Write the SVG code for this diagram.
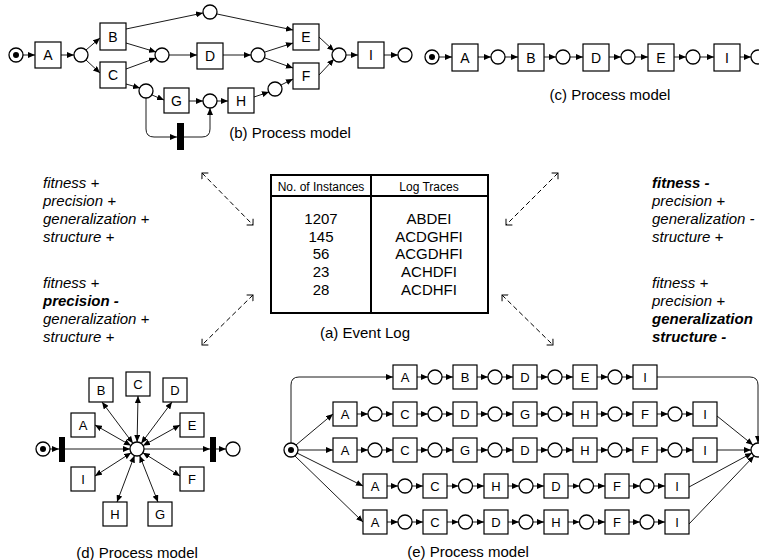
<svg xmlns="http://www.w3.org/2000/svg" width="759" height="560" viewBox="0 0 759 560">
<defs>
<marker id="ah" viewBox="0 0 7 6" refX="7" refY="3" markerWidth="7" markerHeight="6" markerUnits="userSpaceOnUse" orient="auto-start-reverse"><path d="M0,0L7,3L0,6z" fill="#000"/></marker>
<marker id="oh" viewBox="0 0 6 10" refX="5" refY="5" markerWidth="6" markerHeight="10" markerUnits="userSpaceOnUse" orient="auto-start-reverse"><path d="M0.5,0.5L5,5L0.5,9.5" fill="none" stroke="#000" stroke-width="1"/></marker>
</defs>
<style>
text{font-family:"Liberation Sans",Arial,sans-serif;fill:#000}
.t rect{fill:#fff;stroke:#000;stroke-width:1.2}
.t text{font-size:14px;text-anchor:middle}
.s rect{fill:#fff;stroke:#000;stroke-width:1.2}
.s text{font-size:13px;text-anchor:middle}
.p{fill:#fff;stroke:#000;stroke-width:1.3}
.dot{fill:#000}
.bar{fill:#000}
.a{fill:none;stroke:#000;stroke-width:0.9;marker-end:url(#ah)}
.b{fill:none;stroke:#000;stroke-width:0.9;marker-end:url(#ah);marker-start:url(#ah)}
.l{fill:none;stroke:#000;stroke-width:0.9}
.d{fill:none;stroke:#000;stroke-width:1;stroke-dasharray:5,3;marker-end:url(#oh);marker-start:url(#oh)}
.cap{font-size:15px;text-anchor:middle}
.q{font-size:15px;font-style:italic}
.qb{font-size:15px;font-style:italic;font-weight:bold}
.th{font-size:12px;text-anchor:middle}
.tr{font-size:15px;text-anchor:middle}
</style>

<!-- ===== (b) Process model ===== -->
<g id="model-b">
<g id="b-start"><circle class="p" cx="16" cy="55" r="7"/><circle class="dot" cx="16" cy="55" r="3"/></g>
<g id="b-A" class="t"><rect x="35" y="42" width="26" height="26"/><text x="48" y="60">A</text></g>
<g id="b-B" class="t"><rect x="100" y="23" width="26" height="27"/><text x="113" y="42">B</text></g>
<g id="b-C" class="t"><rect x="100" y="62" width="26" height="26"/><text x="113" y="80">C</text></g>
<g id="b-D" class="t"><rect x="197" y="43" width="26" height="26"/><text x="210" y="61">D</text></g>
<g id="b-E" class="t"><rect x="293" y="24" width="26" height="26"/><text x="306" y="42">E</text></g>
<g id="b-F" class="t"><rect x="293" y="63" width="26" height="26"/><text x="306" y="81">F</text></g>
<g id="b-G" class="t"><rect x="164" y="88" width="25" height="25"/><text x="176.5" y="105.5">G</text></g>
<g id="b-H" class="t"><rect x="228" y="88" width="26" height="25"/><text x="241" y="105.5">H</text></g>
<g id="b-I" class="t"><rect x="358" y="42" width="26" height="26"/><text x="371" y="60">I</text></g>
<circle id="b-p1" class="p" cx="81" cy="55" r="7"/>
<circle id="b-ptop" class="p" cx="210" cy="12" r="7"/>
<circle id="b-pmid" class="p" cx="162" cy="55" r="7"/>
<circle id="b-pd" class="p" cx="258" cy="55" r="7"/>
<circle id="b-pi" class="p" cx="339" cy="55" r="7"/>
<circle id="b-pc" class="p" cx="146" cy="91" r="7"/>
<circle id="b-pg" class="p" cx="210" cy="101" r="7"/>
<circle id="b-ph" class="p" cx="275" cy="89" r="7"/>
<circle id="b-end" class="p" cx="405" cy="55" r="7"/>
<rect id="b-bar" class="bar" x="177" y="123" width="7" height="27"/>
<text class="cap" x="290" y="138">(b) Process model</text>
</g>
<g id="b-arcs">
<path class="a" d="M23,55H35"/>
<path class="a" d="M61,55H74"/>
<path class="a" d="M86,50L100,38"/>
<path class="a" d="M86,60L100,73"/>
<path class="a" d="M126,29L203,13"/>
<path class="a" d="M126,43L156,52"/>
<path class="a" d="M126,69L156,58"/>
<path class="a" d="M126,84L140,88"/>
<path class="a" d="M169,55H197"/>
<path class="a" d="M223,55H251"/>
<path class="a" d="M217,14L293,30"/>
<path class="a" d="M265,52L293,43"/>
<path class="a" d="M265,58L293,68"/>
<path class="a" d="M281,85L293,79"/>
<path class="a" d="M319,37L334,51"/>
<path class="a" d="M319,75L334,59"/>
<path class="a" d="M346,55H358"/>
<path class="a" d="M384,55H398"/>
<path class="a" d="M152,95L164,100"/>
<path class="a" d="M189,101H203"/>
<path class="a" d="M217,101H228"/>
<path class="a" d="M254,97L269,92"/>
<path class="a" d="M146,98V129Q146,137 154,137H177"/>
<path class="a" d="M184,137H202Q210,137 210,129V108"/>
</g>

<!-- ===== (c) Process model ===== -->
<g id="model-c">
<g id="c-start"><circle class="p" cx="432" cy="57" r="7"/><circle class="dot" cx="432" cy="57" r="3"/></g>
<g id="c-A" class="t"><rect x="452" y="44" width="26" height="27"/><text x="465" y="62.5">A</text></g>
<g id="c-B" class="t"><rect x="518" y="44" width="26" height="27"/><text x="531" y="62.5">B</text></g>
<g id="c-D" class="t"><rect x="583" y="44" width="26" height="27"/><text x="596" y="62.5">D</text></g>
<g id="c-E" class="t"><rect x="648" y="44" width="26" height="27"/><text x="661" y="62.5">E</text></g>
<g id="c-I" class="t"><rect x="714" y="44" width="26" height="27"/><text x="727" y="62.5">I</text></g>
<circle id="c-p1" class="p" cx="498" cy="57" r="7"/>
<circle id="c-p2" class="p" cx="563" cy="57" r="7"/>
<circle id="c-p3" class="p" cx="628" cy="57" r="7"/>
<circle id="c-p4" class="p" cx="693" cy="57" r="7"/>
<circle id="c-end" class="p" cx="758" cy="57" r="7"/>
<text class="cap" x="610" y="100">(c) Process model</text>
</g>
<g id="c-arcs">
<path class="a" d="M439,57H452"/>
<path class="a" d="M478,57H491"/>
<path class="a" d="M505,57H518"/>
<path class="a" d="M544,57H556"/>
<path class="a" d="M570,57H583"/>
<path class="a" d="M609,57H621"/>
<path class="a" d="M635,57H648"/>
<path class="a" d="M674,57H686"/>
<path class="a" d="M700,57H714"/>
<path class="a" d="M740,57H751"/>
</g>

<!-- ===== (a) Event log ===== -->
<g id="event-log">
<rect x="271" y="175" width="217" height="138" fill="#fff" stroke="#000" stroke-width="2"/>
<line x1="271" y1="196" x2="488" y2="196" stroke="#000" stroke-width="2"/>
<line x1="371" y1="175" x2="371" y2="313" stroke="#000" stroke-width="2"/>
<text class="th" x="321" y="191">No. of Instances</text>
<text class="th" x="429" y="191">Log Traces</text>
<text class="tr" x="321" y="224">1207</text>
<text class="tr" x="321" y="241.7">145</text>
<text class="tr" x="321" y="259.4">56</text>
<text class="tr" x="321" y="277.1">23</text>
<text class="tr" x="321" y="294.8">28</text>
<text class="tr" x="429" y="224">ABDEI</text>
<text class="tr" x="429" y="241.7">ACDGHFI</text>
<text class="tr" x="429" y="259.4">ACGDHFI</text>
<text class="tr" x="429" y="277.1">ACHDFI</text>
<text class="tr" x="429" y="294.8">ACDHFI</text>
<text class="cap" x="365" y="338">(a) Event Log</text>
</g>
<g id="dashed-arrows">
<path class="d" d="M202,173L253,225"/>
<path class="d" d="M558,173L506,225"/>
<path class="d" d="M253,295L202,345"/>
<path class="d" d="M502,295L553,345"/>
</g>

<!-- ===== quality texts ===== -->
<g id="text-b">
<text class="q" x="43" y="188">fitness +</text>
<text class="q" x="43" y="206">precision +</text>
<text class="q" x="43" y="224">generalization +</text>
<text class="q" x="43" y="242">structure +</text>
</g>
<g id="text-d">
<text class="q" x="43" y="288">fitness +</text>
<text class="qb" x="43" y="306">precision -</text>
<text class="q" x="43" y="324">generalization +</text>
<text class="q" x="43" y="342">structure +</text>
</g>
<g id="text-c">
<text class="qb" x="652" y="188">fitness -</text>
<text class="q" x="652" y="206">precision +</text>
<text class="q" x="652" y="224">generalization -</text>
<text class="q" x="652" y="242">structure +</text>
</g>
<g id="text-e">
<text class="q" x="652" y="288">fitness +</text>
<text class="q" x="652" y="306">precision +</text>
<text class="qb" x="652" y="324">generalization</text>
<text class="qb" x="652" y="342">structure -</text>
</g>

<!-- ===== (d) Process model ===== -->
<g id="model-d">
<g id="d-start"><circle class="p" cx="43" cy="449" r="7"/><circle class="dot" cx="43" cy="449" r="3"/></g>
<rect id="d-bar1" class="bar" x="59" y="437" width="6" height="25"/>
<rect id="d-bar2" class="bar" x="210" y="437" width="6" height="25"/>
<circle id="d-end" class="p" cx="233" cy="449" r="7"/>
<g id="d-A" class="s"><rect x="71" y="413" width="24" height="24"/><text x="83" y="429.5">A</text></g>
<g id="d-B" class="s"><rect x="89" y="378" width="24" height="24"/><text x="101" y="394.5">B</text></g>
<g id="d-C" class="s"><rect x="126" y="372" width="24" height="24"/><text x="138" y="388.5">C</text></g>
<g id="d-D" class="s"><rect x="163" y="378" width="24" height="24"/><text x="175" y="394.5">D</text></g>
<g id="d-E" class="s"><rect x="180" y="413" width="24" height="24"/><text x="192" y="429.5">E</text></g>
<g id="d-I" class="s"><rect x="71" y="467" width="24" height="24"/><text x="83" y="483.5">I</text></g>
<g id="d-F" class="s"><rect x="180" y="467" width="24" height="24"/><text x="192" y="483.5">F</text></g>
<g id="d-H" class="s"><rect x="103" y="502" width="24" height="24"/><text x="115" y="518.5">H</text></g>
<g id="d-G" class="s"><rect x="148" y="502" width="24" height="24"/><text x="160" y="518.5">G</text></g>
<text class="cap" x="137" y="558">(d) Process model</text>
</g>
<g id="d-arcs">
<path class="a" d="M50,449H59"/>
<path class="a" d="M65,449H130"/>
<path class="a" d="M144,449H210"/>
<path class="a" d="M216,449H226"/>
<path class="b" d="M132.9,443.3L102,402"/>
<path class="b" d="M137.1,442L138,396"/>
<path class="b" d="M141.2,443.4L172,402"/>
<path class="b" d="M130.9,445.5L95,425"/>
<path class="b" d="M143.1,445.6L180,425"/>
<path class="b" d="M131.1,452.8L95,476"/>
<path class="b" d="M142.9,452.7L180,476"/>
<path class="b" d="M134.5,455.6L117,502"/>
<path class="b" d="M139.6,455.5L158,502"/>
</g>
<circle class="p" cx="137" cy="449" r="7"/>

<!-- ===== (e) Process model ===== -->
<g id="model-e">
<g id="e-start"><circle class="p" cx="291" cy="450" r="7"/><circle class="dot" cx="291" cy="450" r="3"/></g>
<circle id="e-end" class="p" cx="758" cy="450" r="7"/>
<!-- row 1 -->
<g id="e1-A" class="s"><rect x="393" y="365" width="24" height="24"/><text x="405" y="381.5">A</text></g>
<g id="e1-B" class="s"><rect x="453" y="365" width="24" height="24"/><text x="465" y="381.5">B</text></g>
<g id="e1-D" class="s"><rect x="513" y="365" width="24" height="24"/><text x="525" y="381.5">D</text></g>
<g id="e1-E" class="s"><rect x="573" y="365" width="24" height="24"/><text x="585" y="381.5">E</text></g>
<g id="e1-I" class="s"><rect x="633" y="365" width="24" height="24"/><text x="645" y="381.5">I</text></g>
<circle class="p" cx="435" cy="377" r="7"/><circle class="p" cx="495" cy="377" r="7"/><circle class="p" cx="555" cy="377" r="7"/><circle class="p" cx="615" cy="377" r="7"/>
<!-- row 2 -->
<g id="e2-A" class="s"><rect x="333" y="402" width="24" height="24"/><text x="345" y="418.5">A</text></g>
<g id="e2-C" class="s"><rect x="393" y="402" width="24" height="24"/><text x="405" y="418.5">C</text></g>
<g id="e2-D" class="s"><rect x="453" y="402" width="24" height="24"/><text x="465" y="418.5">D</text></g>
<g id="e2-G" class="s"><rect x="513" y="402" width="24" height="24"/><text x="525" y="418.5">G</text></g>
<g id="e2-H" class="s"><rect x="573" y="402" width="24" height="24"/><text x="585" y="418.5">H</text></g>
<g id="e2-F" class="s"><rect x="633" y="402" width="24" height="24"/><text x="645" y="418.5">F</text></g>
<g id="e2-I" class="s"><rect x="693" y="402" width="24" height="24"/><text x="705" y="418.5">I</text></g>
<circle class="p" cx="375" cy="414" r="7"/><circle class="p" cx="435" cy="414" r="7"/><circle class="p" cx="495" cy="414" r="7"/><circle class="p" cx="555" cy="414" r="7"/><circle class="p" cx="615" cy="414" r="7"/><circle class="p" cx="675" cy="414" r="7"/>
<!-- row 3 -->
<g id="e3-A" class="s"><rect x="333" y="438" width="24" height="24"/><text x="345" y="454.5">A</text></g>
<g id="e3-C" class="s"><rect x="393" y="438" width="24" height="24"/><text x="405" y="454.5">C</text></g>
<g id="e3-G" class="s"><rect x="453" y="438" width="24" height="24"/><text x="465" y="454.5">G</text></g>
<g id="e3-D" class="s"><rect x="513" y="438" width="24" height="24"/><text x="525" y="454.5">D</text></g>
<g id="e3-H" class="s"><rect x="573" y="438" width="24" height="24"/><text x="585" y="454.5">H</text></g>
<g id="e3-F" class="s"><rect x="633" y="438" width="24" height="24"/><text x="645" y="454.5">F</text></g>
<g id="e3-I" class="s"><rect x="693" y="438" width="24" height="24"/><text x="705" y="454.5">I</text></g>
<circle class="p" cx="375" cy="450" r="7"/><circle class="p" cx="435" cy="450" r="7"/><circle class="p" cx="495" cy="450" r="7"/><circle class="p" cx="555" cy="450" r="7"/><circle class="p" cx="615" cy="450" r="7"/><circle class="p" cx="675" cy="450" r="7"/>
<!-- row 4 -->
<g id="e4-A" class="s"><rect x="363" y="474" width="24" height="24"/><text x="375" y="490.5">A</text></g>
<g id="e4-C" class="s"><rect x="423" y="474" width="24" height="24"/><text x="435" y="490.5">C</text></g>
<g id="e4-H" class="s"><rect x="484" y="474" width="24" height="24"/><text x="496" y="490.5">H</text></g>
<g id="e4-D" class="s"><rect x="544" y="474" width="24" height="24"/><text x="556" y="490.5">D</text></g>
<g id="e4-F" class="s"><rect x="605" y="474" width="24" height="24"/><text x="617" y="490.5">F</text></g>
<g id="e4-I" class="s"><rect x="665" y="474" width="24" height="24"/><text x="677" y="490.5">I</text></g>
<circle class="p" cx="405" cy="486" r="7"/><circle class="p" cx="465.5" cy="486" r="7"/><circle class="p" cx="526" cy="486" r="7"/><circle class="p" cx="586.5" cy="486" r="7"/><circle class="p" cx="647" cy="486" r="7"/>
<!-- row 5 -->
<g id="e5-A" class="s"><rect x="363" y="510" width="24" height="24"/><text x="375" y="526.5">A</text></g>
<g id="e5-C" class="s"><rect x="423" y="510" width="24" height="24"/><text x="435" y="526.5">C</text></g>
<g id="e5-D" class="s"><rect x="484" y="510" width="24" height="24"/><text x="496" y="526.5">D</text></g>
<g id="e5-H" class="s"><rect x="544" y="510" width="24" height="24"/><text x="556" y="526.5">H</text></g>
<g id="e5-F" class="s"><rect x="605" y="510" width="24" height="24"/><text x="617" y="526.5">F</text></g>
<g id="e5-I" class="s"><rect x="665" y="510" width="24" height="24"/><text x="677" y="526.5">I</text></g>
<circle class="p" cx="405" cy="522" r="7"/><circle class="p" cx="465.5" cy="522" r="7"/><circle class="p" cx="526" cy="522" r="7"/><circle class="p" cx="586.5" cy="522" r="7"/><circle class="p" cx="647" cy="522" r="7"/>
<text class="cap" x="468" y="557">(e) Process model</text>
</g>
<g id="e-arcs">
<path class="a" d="M291,443V385Q291,377 299,377H393"/>
<path class="a" d="M657,377H750Q758,377 758,385V443"/>
<path class="a" d="M296,445L333,414"/>
<path class="a" d="M298,450H333"/>
<path class="a" d="M297,453L363,486"/>
<path class="a" d="M295,456L363,522"/>
<path class="a" d="M717,416L753,445"/>
<path class="a" d="M717,450H751"/>
<path class="a" d="M689,487L752,453"/>
<path class="a" d="M689,524L754,456"/>
<path class="a" d="M417,377H428"/><path class="a" d="M442,377H453"/><path class="a" d="M477,377H488"/><path class="a" d="M502,377H513"/><path class="a" d="M537,377H548"/><path class="a" d="M562,377H573"/><path class="a" d="M597,377H608"/><path class="a" d="M622,377H633"/>
<path class="a" d="M357,414H368"/><path class="a" d="M382,414H393"/><path class="a" d="M417,414H428"/><path class="a" d="M442,414H453"/><path class="a" d="M477,414H488"/><path class="a" d="M502,414H513"/><path class="a" d="M537,414H548"/><path class="a" d="M562,414H573"/><path class="a" d="M597,414H608"/><path class="a" d="M622,414H633"/><path class="a" d="M657,414H668"/><path class="a" d="M682,414H693"/>
<path class="a" d="M357,450H368"/><path class="a" d="M382,450H393"/><path class="a" d="M417,450H428"/><path class="a" d="M442,450H453"/><path class="a" d="M477,450H488"/><path class="a" d="M502,450H513"/><path class="a" d="M537,450H548"/><path class="a" d="M562,450H573"/><path class="a" d="M597,450H608"/><path class="a" d="M622,450H633"/><path class="a" d="M657,450H668"/><path class="a" d="M682,450H693"/>
<path class="a" d="M387,486H398"/><path class="a" d="M412,486H423"/><path class="a" d="M447,486H458.5"/><path class="a" d="M472.5,486H484"/><path class="a" d="M508,486H519"/><path class="a" d="M533,486H544"/><path class="a" d="M568,486H579.5"/><path class="a" d="M593.5,486H605"/><path class="a" d="M629,486H640"/><path class="a" d="M654,486H665"/>
<path class="a" d="M387,522H398"/><path class="a" d="M412,522H423"/><path class="a" d="M447,522H458.5"/><path class="a" d="M472.5,522H484"/><path class="a" d="M508,522H519"/><path class="a" d="M533,522H544"/><path class="a" d="M568,522H579.5"/><path class="a" d="M593.5,522H605"/><path class="a" d="M629,522H640"/><path class="a" d="M654,522H665"/>
</g>
</svg>
